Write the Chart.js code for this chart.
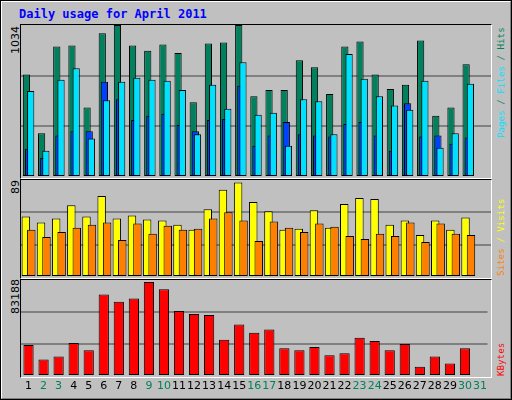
<!DOCTYPE html>
<html><head><meta charset="utf-8">
<script src="https://cdn.jsdelivr.net/npm/chart.js@4/dist/chart.umd.min.js"></script>
<style>
body{margin:0;background:#fff}
#frame{position:absolute;left:0;top:0;width:508px;height:396px;background:#c0c0c0;border:2px solid;border-color:#fff #808080 #808080 #fff;outline:1px solid #000;outline-offset:-1px}
.box{position:absolute;border:1px solid;border-color:#000 #fff #fff #000;box-sizing:border-box}
canvas{position:absolute}
.t{position:absolute;font-family:"DejaVu Sans Mono",monospace;white-space:nowrap}
.rot{transform:rotate(-90deg);transform-origin:left top}
</style></head><body>
<div id="frame"></div>
<div class="t" style="left:19px;top:7px;color:#0000ff;font-weight:bold;font-size:12px">Daily usage for April 2011</div>
<div class="box" style="left:20px;top:24px;width:472px;height:155px"></div>
<div class="box" style="left:20px;top:179px;width:472px;height:100px"></div>
<div class="box" style="left:20px;top:279px;width:472px;height:99px"></div>
<div class="t rot" style="left:9px;top:54px;font-family:'DejaVu Sans';font-size:11px">1034</div>
<div class="t rot" style="left:9px;top:194px;font-family:'DejaVu Sans';font-size:11px">89</div>
<div class="t rot" style="left:9px;top:314px;font-family:'DejaVu Sans';font-size:11px">83188</div>
<div class="t rot" style="left:495px;top:138px;font-size:9.2px"><span style="color:#00e0ff">Pages</span><span style="color:#00805c"> / </span><span style="color:#00e0ff">Files</span><span style="color:#00805c"> / Hits</span></div>
<div class="t rot" style="left:495px;top:276px;font-size:9.2px"><span style="color:#ff8000">Sites</span><span style="color:#ffff00"> / Visits</span></div>
<div class="t rot" style="left:495px;top:376px;font-size:9.2px;color:#ff0000">KBytes</div>
<canvas id="c1" style="left:21px;top:25px;width:470px;height:152px"></canvas>
<canvas id="c2" style="left:21px;top:180px;width:470px;height:97px"></canvas>
<canvas id="c3" style="left:21px;top:280px;width:470px;height:118px"></canvas>
<script>
const days=["1","2","3","4","5","6","7","8","9","10","11","12","13","14","15","16","17","18","19","20","21","22","23","24","25","26","27","28","29","30","31"];
const weekend=["2","3","9","10","16","17","23","24","30","31"];
const hits=[697,297,887,894,473,978,1034,894,858,901,844,508,908,915,1034,550,592,592,795,746,564,887,922,697,599,627,929,416,473,767,null];
const files=[585,178,662,739,262,522,648,676,662,655,592,290,627,465,781,423,437,213,529,515,290,837,669,550,487,458,655,199,297,634,null];
const pages=[192,129,283,311,311,648,529,388,416,430,353,311,388,395,620,213,283,374,290,283,276,360,374,283,178,501,276,283,227,269,null];
const visits=[55.6,49.9,53.7,65.9,55.6,74.4,53.7,56.5,52.7,51.8,48.0,43.3,62.2,80.0,86.6,68.7,60.3,43.3,44.3,61.2,45.2,66.9,72.5,71.6,48.0,51.8,38.6,51.8,43.3,54.6,null];
const sites=[43.3,36.7,41.4,45.2,48.0,49.9,33.9,49.0,39.6,47.1,43.3,44.3,53.7,59.3,51.8,33.0,50.9,45.2,41.4,49.0,46.1,37.7,34.8,39.6,37.7,49.9,32.0,49.0,39.6,38.6,null];
const kbytes=[26838,14314,16997,28627,22365,70673,64411,67095,81409,75146,56360,53676,52781,31311,44730,37573,40257,24154,22365,25049,17892,19681,33100,30416,22365,27733,8051,16997,10735,24154,null];
const maxes=[1034,89,83188];

// draw datasets first-to-last so later (right-hand) bars overlap earlier ones
const drawOrder={id:'drawOrder',beforeDatasetsDraw(chart){
  const ctx=chart.ctx;ctx.save();
  const a=chart.chartArea;ctx.beginPath();ctx.rect(a.left,a.top-2,a.right-a.left,a.bottom-a.top+2);ctx.clip();
  chart.getSortedVisibleDatasetMetas().slice().sort((p,q)=>p.index-q.index).forEach(m=>m.controller.draw());
  ctx.restore();return false;}};

function make(id,datasets,max,showX,catPct,barPct){
  new Chart(document.getElementById(id),{type:'bar',
    data:{labels:days,datasets:datasets.map(d=>Object.assign({borderColor:'#000',borderWidth:1,borderSkipped:false,categoryPercentage:catPct,barPercentage:barPct},d))},
    plugins:[drawOrder],
    options:{responsive:false,animation:false,devicePixelRatio:1,
      layout:{padding:0},
      plugins:{legend:{display:false},tooltip:{enabled:false}},
      scales:{
        x:{display:showX,offset:true,grid:{display:false,drawTicks:false},border:{display:false},
           ticks:{padding:4,autoSkip:false,maxRotation:0,minRotation:0,font:{family:'DejaVu Sans',size:11},color:c=>weekend.includes(days[c.index])?'#00805c':'#000'},
           afterFit:s=>{if(showX)s.height=22;}},
        y:{min:0,max:max,display:true,afterFit:s=>{s.width=0;},
           afterBuildTicks:s=>{s.ticks=[0,max/3,2*max/3,max].map(v=>({value:v}));},
           ticks:{display:false},border:{display:false},
           grid:{drawTicks:false,lineWidth:2,color:c=>(c.index===1||c.index===2)?'#808080':'rgba(0,0,0,0)'}}
      }}});
}
const cv=(id,w,h)=>{const c=document.getElementById(id);c.width=w;c.height=h;};
cv('c1',470,152);cv('c2',470,97);cv('c3',470,118);
make('c1',[
  {data:hits,backgroundColor:'#00805c'},
  {data:pages,backgroundColor:'#0040ff'},
  {data:files,backgroundColor:'#00e0ff'}],maxes[0],false,0.42,3.4);
make('c2',[
  {data:visits,backgroundColor:'#ffff00'},
  {data:sites,backgroundColor:'#ff8000'}],maxes[1],false,0.72,1.55);
make('c3',[
  {data:kbytes,backgroundColor:'#ff0000'}],maxes[2],true,0.68,1);
</script></body></html>
